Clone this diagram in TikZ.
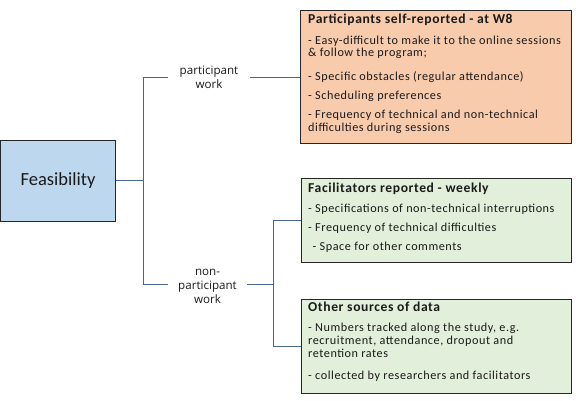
\documentclass[tikz,border=0pt]{standalone}
\usepackage{fontspec}
\setmainfont{Carlito}
\newfontfamily\labfont{Open Sans}
\newfontfamily\boxfont[LetterSpace=4.5]{Carlito}
\definecolor{orangefill}{HTML}{F8CBAD}
\definecolor{greenfill}{HTML}{E2EFDA}
\definecolor{bluefill}{HTML}{BDD7EE}
\definecolor{conn}{HTML}{44668F}
\definecolor{edge}{HTML}{262626}
\definecolor{ink}{HTML}{1A1A1A}
\tikzset{
  box/.style={draw=edge, line width=1.1pt, anchor=north west, inner sep=0pt},
  txt/.style={anchor=base west, inner sep=0pt, text=ink, font=\boxfont\fontsize{12.2}{14}\selectfont},
  ttl/.style={anchor=base west, inner sep=0pt, text=ink, font=\boxfont\bfseries\fontsize{13.6}{15}\selectfont},
  lab/.style={align=center, inner xsep=0pt, inner ysep=0pt, text=ink, font=\labfont\fontsize{11.6}{14}\selectfont},
  link/.style={draw=conn, line width=0.9pt},
}
\begin{document}
\begin{tikzpicture}[x=1pt,y=-1pt]
\useasboundingbox (0,0) rectangle (576,400);
% root
\node[box, fill=bluefill, minimum width=115pt, minimum height=81pt, font=\fontsize{18.5}{20}\selectfont, text=ink] (feas) at (0,140) {Feasibility};
% boxes
\node[box, fill=orangefill, minimum width=271pt, minimum height=133pt] (pbox) at (300,10) {};
\node[box, fill=greenfill, minimum width=270pt, minimum height=84pt] (fbox) at (301,178) {};
\node[box, fill=greenfill, minimum width=270pt, minimum height=94pt] (obox) at (301,299) {};
% labels
\node[lab, minimum width=82pt] (plab) at (209,77) {participant\\work};
\node[lab, minimum width=79pt] (nlab) at (207.5,286) {non-\\participant\\work};
% connectors
\coordinate (j1) at (143,180);
\coordinate (j2) at (273,284);
\draw[link] (feas.east |- j1) -- (j1);
\draw[link] (j1) |- (plab.west);
\draw[link] (j1) |- (nlab.west |- j2);
\draw[link] (plab.east) -- (plab.east -| pbox.west);
\draw[link] (nlab.east |- j2) -- (j2);
\draw[link] (j2) |- (fbox.west);
\draw[link] (j2) |- (obox.west);
% orange box text
\node[ttl] (pt) at (308,23.5) {Participants self-reported - at W8};
\node[txt] (p1a) at (308,44) {- Easy-difficult to make it to the online sessions};
\node[txt] (p1b) at (308,56.5) {\& follow the program;};
\node[txt] (p2) at (308,80) {- Specific obstacles (regular attendance)};
\node[txt] (p3) at (308,99) {- Scheduling preferences};
\node[txt] (p4a) at (308,118.5) {- Frequency of technical and non-technical};
\node[txt] (p4b) at (308,131) {difficulties during sessions};
% facilitators text
\node[ttl] (ft) at (308,192) {Facilitators reported - weekly};
\node[txt] (f1) at (308,212.5) {- Specifications of non-technical interruptions};
\node[txt] (f2) at (308,231.5) {- Frequency of technical difficulties};
\node[txt] (f3) at (312.5,250.5) {- Space for other comments};
% other sources text
\node[ttl] (ot) at (308,311) {Other sources of data};
\node[txt] (o1a) at (308,331.5) {- Numbers tracked along the study, e.g.};
\node[txt] (o1b) at (308,344.5) {recruitment, attendance, dropout and};
\node[txt] (o1c) at (308,357.5) {retention rates};
\node[txt] (o2) at (308,379.5) {- collected by researchers and facilitators};
\end{tikzpicture}
\end{document}
